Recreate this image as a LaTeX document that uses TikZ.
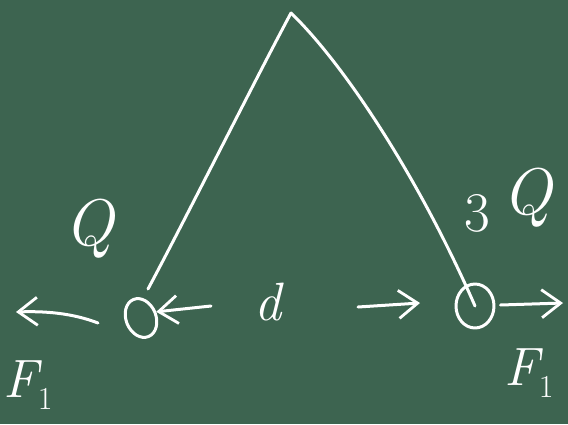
\documentclass[tikz,border=0pt]{standalone}
\usetikzlibrary{arrows.meta,shapes.geometric}
\definecolor{board}{RGB}{61,100,80}
\begin{document}
\begin{tikzpicture}[x=1pt,y=-1pt,
  chalk/.style={draw=white,line width=3pt,line cap=round,line join=round},
  ball/.style={chalk,ellipse,inner sep=0pt},
  arr/.style={chalk,-{Straight Barb[length=19pt,width=28pt,line width=2.8pt]}},
  lbl/.style={text=white,font=\fontsize{66}{66}\selectfont\itshape,inner sep=0pt},
  slbl/.style={text=white,font=\fontsize{54}{54}\selectfont\itshape,inner sep=0pt}]
\fill[board] (0,0) rectangle (568,424);
\useasboundingbox (0,0) rectangle (568,424);
\coordinate (apex) at (291,13);
\node[ball,minimum width=30pt,minimum height=40pt,rotate=22] (A) at (141,318) {};
\node[ball,minimum width=38pt,minimum height=44pt] (B) at (475,306) {};
% strings
\draw[chalk] (apex) .. controls (255,80) and (185,220) .. (148,289);
\draw[chalk] (apex) .. controls (345,65) and (420,180) .. (B.center);
% arrows
\coordinate (L1) at (98,323);
\coordinate (L2) at (16,312);
\draw[arr] (L1) .. controls (72,313) and (45,311) .. (L2);
\coordinate (M1) at (211,306);
\draw[arr] (M1) -- (A.east);
\coordinate (N1) at (358,307);
\coordinate (N2) at (420,303);
\draw[arr] (N1) -- (N2);
\coordinate (R2) at (563,303);
\draw[arr] (B.east) ++(5,-1) -- (R2);
% labels
\node[lbl] (q1) at (89,229) {Q};
\node[lbl,font=\fontsize{56}{56}\selectfont\upshape] (three) at (477,213) {3};
\node[lbl] (q2) at (527,198) {Q};
\node[slbl] (d) at (268,302) {d};
\node[slbl] (f1) at (28,385) {F\raisebox{-0.22em}{\normalfont\fontsize{32}{32}\selectfont 1}};
\node[slbl] (f2) at (529,373) {F\raisebox{-0.22em}{\normalfont\fontsize{32}{32}\selectfont 1}};
\end{tikzpicture}
\end{document}
